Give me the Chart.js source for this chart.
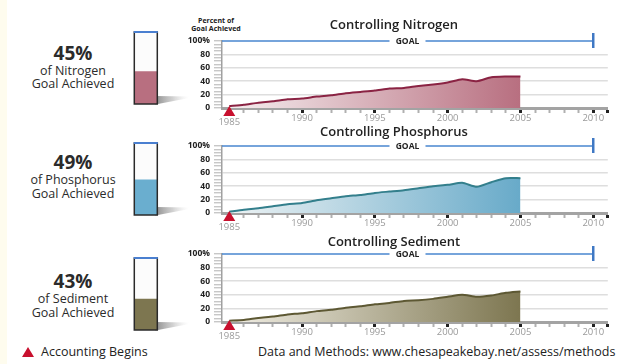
<!DOCTYPE html>
<html><head><meta charset="utf-8">
<script src="https://cdn.jsdelivr.net/npm/chart.js@4.4.1/dist/chart.umd.min.js"></script>
<style>
html,body{margin:0;padding:0;background:#fff;}
body{width:637px;height:364px;position:relative;overflow:hidden;font-family:'Open Sans',sans-serif;color:#2b2b2b;}
.strip{position:absolute;left:0;top:0;width:7px;height:364px;background:#fefcee;}
canvas{position:absolute;}
.t{position:absolute;left:13px;width:120px;text-align:center;white-space:nowrap;}
.pct{font-weight:700;font-size:19px;height:22px;line-height:22px;}
.sub{font-size:12.5px;height:16px;line-height:16px;}
.ylab{position:absolute;left:186px;top:17px;width:60px;text-align:center;font-weight:700;font-size:7px;line-height:7.6px;color:#222;}
.foot{position:absolute;font-size:12.5px;height:18px;line-height:18px;top:343px;white-space:nowrap;color:#222;}
.tri{position:absolute;left:22px;top:347px;width:0;height:0;border-left:6px solid transparent;border-right:6px solid transparent;border-bottom:10px solid #c8102e;}
</style></head><body>
<div class="strip"></div>
<div class="ylab">Percent of<br>Goal Achieved</div>
<div id="labels"></div>
<canvas id="g0"></canvas><canvas id="g1"></canvas><canvas id="g2"></canvas>
<canvas id="c0"></canvas><canvas id="c1"></canvas><canvas id="c2"></canvas>
<div class="tri"></div>
<div class="foot" style="left:41px">Accounting Begins</div>
<div class="foot" style="left:258px">Data and Methods: www.chesapeakebay.net/assess/methods</div>
<script>
// ---- data ----
const years = [1985,1986,1987,1988,1989,1990,1991,1992,1993,1994,1995,1996,1997,1998,1999,2000,2001,2002,2003,2004,2005];
const nitrogen   = [3,5,8,10,13,14,17,19,22,24,26,29,30,33,35,38,43,40,46,47,47];
const phosphorus = [2,5,7,10,13,15,19,22,25,27,30,32,34,37,40,42,45,39,46,52,52];
const sediment   = [2,3,6,8,11,13,16,18,21,23,26,28,31,32,34,37,40,37,39,43,45];
const pollutants = ['Nitrogen','Phosphorus','Sediment'];
const goalAchieved = [45,49,43];
const xTickLabels = [1985,1990,1995,2000,2005,2010];
const yTickLabels = [0,20,40,60,80,100];
const goalValue = 100, goalYear = 2010, accountingStart = 1985;

const seriesList = [nitrogen, phosphorus, sediment];
const fillLight = ['#f5eeef','#eef3f4','#f1eee4'];
const fillDark  = ['#b86f80','#68aac9','#7d7650'];
const lineCol   = ['#8a2343','#337f8c','#5d5833'];
const gaugeCol  = ['#b86f80','#6aaecf','#7d7650'];

// geometry (page px)
const geo = [
  {top:10, titleY:25, plotTop:41, plotBottom:108, gaugeTop:32, lab:[52.5,71,84]},
  {top:117, titleY:132, plotTop:146, plotBottom:213, gaugeTop:143, lab:[162,180,193.5]},
  {top:227, titleY:242, plotTop:254, plotBottom:322, gaugeTop:258, lab:[281,299,312.5]}
];

// left labels
const labDiv = document.getElementById('labels');
pollutants.forEach((p,i)=>{
  const g = geo[i];
  labDiv.insertAdjacentHTML('beforeend',
    `<div class="t pct" style="top:${g.lab[0]-11}px">${goalAchieved[i]}%</div>`+
    `<div class="t sub" style="top:${g.lab[1]-8}px">of ${p}</div>`+
    `<div class="t sub" style="top:${g.lab[2]-8}px">Goal Achieved</div>`);
});

const allYears = [];
for (let y = accountingStart; y <= 2011; y++) allYears.push(y);
const yMinor = [];
for (let v = 0; v <= 100; v += 5) yMinor.push(v);

const extras = {
  id:'extras',
  afterDraw(chart){
    const {ctx, chartArea, scales:{x,y}} = chart;
    const gy = y.getPixelForValue(goalValue);
    const gx = x.getPixelForValue(goalYear);
    const cx = chart.width/2;
    ctx.save();
    ctx.strokeStyle = '#4a86cf'; ctx.lineWidth = 1.6;
    ctx.beginPath();
    ctx.moveTo(chartArea.left, gy); ctx.lineTo(cx-18, gy);
    ctx.moveTo(cx+18, gy); ctx.lineTo(gx, gy);
    ctx.stroke();
    ctx.strokeStyle = '#3f78c4'; ctx.lineWidth = 2.5;
    ctx.beginPath(); ctx.moveTo(gx, gy-8); ctx.lineTo(gx, gy+7); ctx.stroke();
    ctx.fillStyle = '#222'; ctx.font = 'bold 8.5px "Open Sans"';
    ctx.textAlign = 'center'; ctx.textBaseline = 'middle';
    ctx.fillText('GOAL', cx, gy+0.5);
    const tx = x.getPixelForValue(accountingStart), by = chartArea.bottom;
    ctx.fillStyle = '#c8102e';
    ctx.beginPath(); ctx.moveTo(tx, by-2); ctx.lineTo(tx+6, by+8); ctx.lineTo(tx-6, by+8); ctx.closePath(); ctx.fill();
    ctx.restore();
  }
};

seriesList.forEach((vals,i)=>{
  const g = geo[i];
  const cv = document.getElementById('c'+i);
  const h = g.plotBottom - g.top + 20;
  cv.width = 455; cv.height = h;
  cv.style.left = '180px'; cv.style.top = g.top+'px';
  cv.style.width = '455px'; cv.style.height = h+'px';
  new Chart(cv, {
    type:'line',
    data:{datasets:[{
      data: years.map((yr,k)=>({x:yr, y:vals[k]})),
      borderColor: lineCol[i], borderWidth: 2, pointRadius: 0, tension: 0.2,
      fill: 'origin',
      backgroundColor: (c)=>{
        const ch = c.chart; if (!ch.chartArea) return fillDark[i];
        const xs = ch.scales.x;
        const gr = ch.ctx.createLinearGradient(xs.getPixelForValue(years[0]),0,xs.getPixelForValue(years[years.length-1]),0);
        gr.addColorStop(0, fillLight[i]); gr.addColorStop(1, fillDark[i]);
        return gr;
      }
    }]},
    options:{
      responsive:false, animation:false, devicePixelRatio:1,
      layout:{padding:{left:0, right:27.2, top:0, bottom:0}},
      plugins:{
        legend:{display:false}, tooltip:{enabled:false},
        title:{display:true, text:'Controlling '+pollutants[i], color:'#222',
          font:{family:'Open Sans', size:13, weight:'600', lineHeight:1.2},
          padding:{top:7.2, bottom:(g.plotTop-g.top)-22.8}}
      },
      scales:{
        x:{type:'linear', min:1984.5, max:2011,
          afterBuildTicks: s=>{ s.ticks = allYears.map(v=>({value:v})); },
          afterFit: s=>{ s.height = 20; },
          grid:{drawOnChartArea:false, drawTicks:true, tickLength:5,
            tickWidth: c=> (c.tick && (c.tick.value%5===0 || c.tick.value===2011)) ? 3 : 2,
            tickColor: c=> (c.tick && (c.tick.value%5===0 || c.tick.value===2011)) ? '#222' : '#b0b0b0'},
          border:{display:true, color:'#a3a3a3', width:3},
          ticks:{autoSkip:false, maxRotation:0, minRotation:0, padding:0, color:'#9a9a9a',
            font: c=>({family:'Open Sans', size:9.5, lineHeight:(c.tick && c.tick.value===accountingStart)?2.0:1.2}),
            callback: v=> xTickLabels.includes(v) ? String(v) : ''}
        },
        y:{min:0, max:100,
          afterBuildTicks: s=>{ s.ticks = yMinor.map(v=>({value:v})); },
          afterFit: s=>{ s.width = 42; },
          grid:{drawOnChartArea:true, lineWidth:1.5,
            color: c=> (c.tick && c.tick.value%20===0 && c.tick.value>0 && c.tick.value<100) ? '#dedede' : 'rgba(0,0,0,0)',
            drawTicks:true, tickLength:8, tickColor:'#bdbdbd', tickWidth:1.2},
          border:{display:true, color:'#a0a0a0', width:1.5},
          ticks:{autoSkip:false, padding:4, color:'#222',
            font:{family:'Open Sans', size:8.5, weight:'bold'},
            callback: v=> yTickLabels.includes(v) ? (v===100 ? '100%' : String(v)) : ''}
        }
      }
    },
    plugins:[extras]
  });
});

const gaugePlugin = {
  id:'gauge',
  beforeDatasetsDraw(chart){
    const {ctx, chartArea:a} = chart;
    ctx.save();
    const R = a.right, B = a.bottom;
    const gr = ctx.createLinearGradient(R-2,0,R+32,0);
    gr.addColorStop(0,'rgba(90,90,90,0.7)'); gr.addColorStop(0.5,'rgba(150,150,150,0.45)'); gr.addColorStop(1,'rgba(210,210,210,0)');
    ctx.fillStyle = gr;
    ctx.beginPath(); ctx.moveTo(R-2,B-8); ctx.lineTo(R+32,B-7.5); ctx.lineTo(R+32,B-6); ctx.lineTo(R-2,B+0.5); ctx.closePath(); ctx.fill();
    ctx.fillStyle = '#fcfcfc';
    ctx.fillRect(a.left, a.top, a.right-a.left, a.bottom-a.top);
    ctx.restore();
  },
  afterDatasetsDraw(chart){
    const {ctx, chartArea:a} = chart;
    ctx.save();
    ctx.strokeStyle = '#2a2a2a'; ctx.lineWidth = 1.5;
    ctx.strokeRect(a.left, a.top, a.right-a.left, a.bottom-a.top);
    ctx.strokeStyle = '#4a7fd0'; ctx.lineWidth = 2;
    ctx.beginPath(); ctx.moveTo(a.left-0.5, a.top); ctx.lineTo(a.right+0.5, a.top); ctx.stroke();
    ctx.restore();
  }
};

goalAchieved.forEach((v,i)=>{
  const cv = document.getElementById('g'+i);
  cv.width = 64; cv.height = 90;
  cv.style.left = '128px'; cv.style.top = (geo[i].gaugeTop-6)+'px';
  cv.style.width = '64px'; cv.style.height = '90px';
  new Chart(cv, {
    type:'bar',
    data:{labels:[pollutants[i]], datasets:[{data:[v], backgroundColor:gaugeCol[i], barPercentage:1, categoryPercentage:1, borderWidth:0}]},
    options:{responsive:false, animation:false, devicePixelRatio:1,
      layout:{padding:{left:6.3, right:34.7, top:6, bottom:12}},
      scales:{x:{display:false}, y:{display:false, min:0, max:100}},
      plugins:{legend:{display:false}, tooltip:{enabled:false}}},
    plugins:[gaugePlugin]
  });
});
</script>
</body></html>
